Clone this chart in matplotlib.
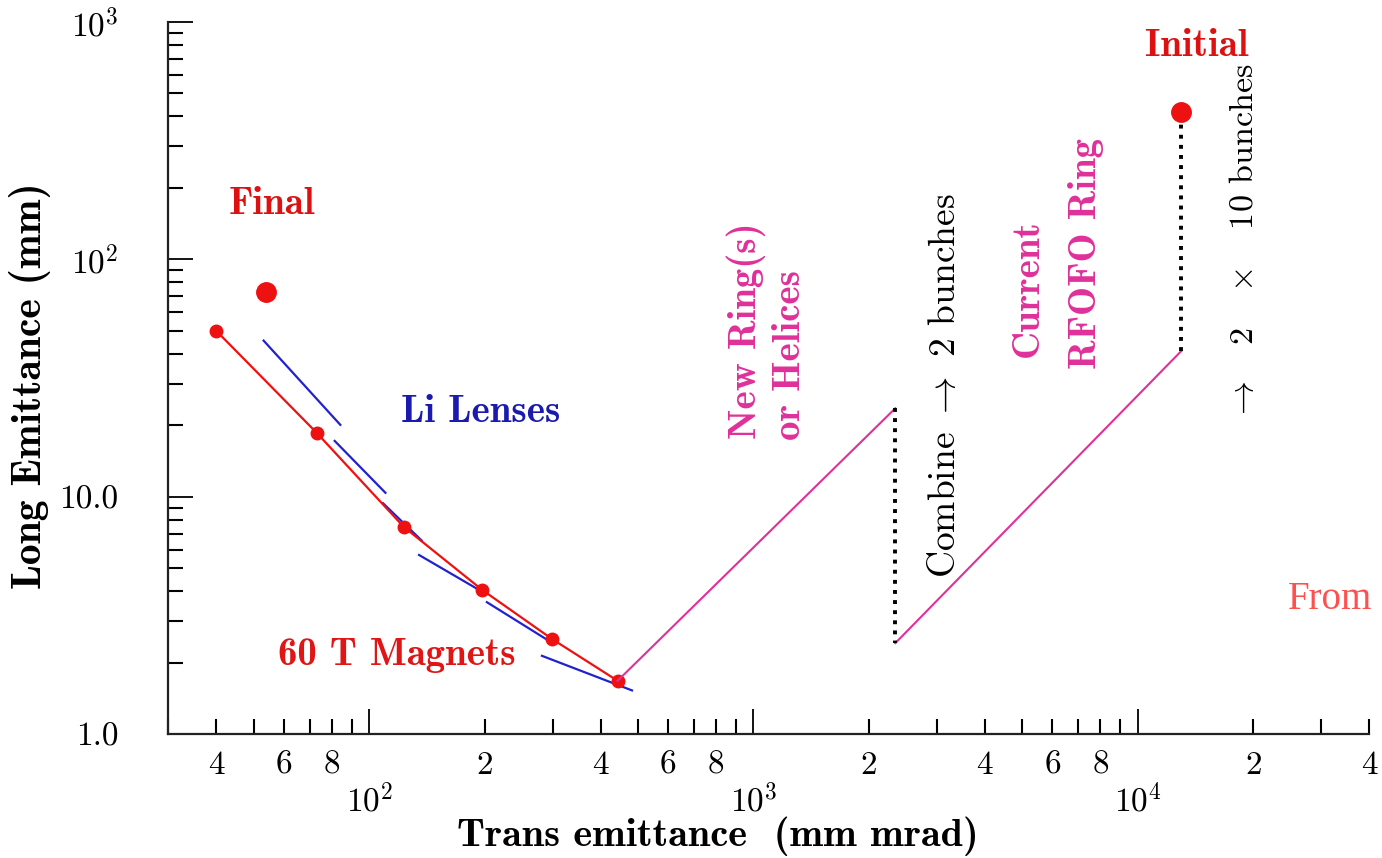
import numpy as np
import matplotlib
matplotlib.use("Agg")
import matplotlib.pyplot as plt
from matplotlib.ticker import LogLocator, FixedLocator, FuncFormatter, NullFormatter

plt.rcParams['font.family'] = 'cmr10'
plt.rcParams['mathtext.fontset'] = 'cm'
plt.rcParams['axes.formatter.use_mathtext'] = True

# ---- data ----
magnet_x = [40, 73, 123, 197, 299, 443]
magnet_y = [50, 18.6, 7.47, 4.05, 2.52, 1.68]

final_x = [54]
final_y = [73]
initial_x = [13000]
initial_y = [419]

# Li lens segments (start/end)
li_x0 = [53.1, 81.3, 108.6, 134.8, 202.4, 281.5]
li_y0 = [45.5, 17.2, 9.4, 5.69, 3.60, 2.14]
li_x1 = [84.1, 110.2, 137.0, 196.4, 290.5, 483.0]
li_y1 = [20.1, 10.4, 6.54, 3.99, 2.50, 1.53]

ring_x = [443, 2340]
ring_y = [1.68, 23.6]
combine_x = [2340, 2340]
combine_y = [23.6, 2.42]
rfofo_x = [2340, 13000]
rfofo_y = [2.42, 41.2]
split_x = [13000, 13000]
split_y = [41.2, 419]

y_major = [1, 10, 100, 1000]
y_major_labels = ['1.0', '10.0', r'$10^{2}$', r'$10^{3}$']
x_major = [100, 1000, 10000]
x_major_labels = [r'$10^{2}$', r'$10^{3}$', r'$10^{4}$']

RED = '#ee1111'
BLUE = '#2222cc'
MAG = '#e0309a'

fig = plt.figure(figsize=(13.82, 8.58), dpi=100)
ax = fig.add_axes([0.1218, 0.1442, 0.8688, 0.8302])
ax.set_xscale('log')
ax.set_yscale('log')
ax.set_xlim(30, 40000)
ax.set_ylim(1, 1000)

for s in ['top', 'right']:
    ax.spines[s].set_visible(False)
for s in ['left', 'bottom']:
    ax.spines[s].set_linewidth(1.6)
    ax.spines[s].set_color('#222222')

# lines
for x0, y0, x1, y1 in zip(li_x0, li_y0, li_x1, li_y1):
    ax.plot([x0, x1], [y0, y1], color=BLUE, lw=1.6)
ax.plot(magnet_x, magnet_y, color=RED, lw=1.6, marker='o', ms=9, mec=RED, mfc=RED)
ax.plot(ring_x, ring_y, color=MAG, lw=1.5)
ax.plot(rfofo_x, rfofo_y, color=MAG, lw=1.5)
ax.plot(combine_x, combine_y, color='black', lw=2.8, linestyle=(0, (1, 1.6)), dash_capstyle='butt')
ax.plot(split_x, split_y, color='black', lw=2.8, linestyle=(0, (1, 1.6)), dash_capstyle='butt')
ax.plot(final_x, final_y, 'o', color=RED, ms=14)
ax.plot(initial_x, initial_y, 'o', color=RED, ms=14)

# ticks
ax.xaxis.set_major_locator(FixedLocator(x_major))
ax.set_xticklabels(x_major_labels)
ax.xaxis.set_minor_locator(LogLocator(base=10, subs=np.arange(2, 10)))

def minor_fmt(v, pos):
    m = v / 10 ** np.floor(np.log10(v) + 1e-9)
    r = int(round(m))
    return str(r) if r in (2, 4, 6, 8) else ''

ax.xaxis.set_minor_formatter(FuncFormatter(minor_fmt))
ax.yaxis.set_major_locator(FixedLocator(y_major))
ax.set_yticklabels(y_major_labels)
ax.yaxis.set_minor_locator(LogLocator(base=10, subs=np.arange(2, 10)))
ax.yaxis.set_minor_formatter(NullFormatter())

ax.tick_params(which='both', direction='in', color='black', labelsize=24)
ax.tick_params(which='major', length=18, width=1.3)
ax.tick_params(which='minor', length=11, width=1.5)
ax.tick_params(axis='x', which='minor', pad=12)
ax.tick_params(axis='x', which='major', pad=35)
ax.tick_params(axis='y', which='major', pad=36)

# axis labels
fig.text(0.5195, 0.025, 'Trans emittance  (mm mrad)', fontfamily='cmb10', fontsize=29,
         ha='center', va='center')
fig.text(0.022, 0.551, 'Long Emittance (mm)', fontfamily='cmb10', fontsize=30,
         ha='center', va='center', rotation=90)

# annotations
T = ax.transAxes
FS = 28
ax.text(0.0864, 0.7434, 'Final', transform=T, color='#dd1111', fontfamily='cmb10', fontsize=FS, ha='center', va='center')
ax.text(0.8567, 0.9650, 'Initial', transform=T, color='#dd1111', fontfamily='cmb10', fontsize=FS, ha='center', va='center')
ax.text(0.2604, 0.4513, 'Li Lenses', transform=T, color='#1a1ab0', fontfamily='cmb10', fontsize=FS, ha='center', va='center')
ax.text(0.1905, 0.1105, '60 T Magnets', transform=T, color='#e01515', fontfamily='cmb10', fontsize=FS, ha='center', va='center')
ax.text(0.4811, 0.5660, 'New Ring(s)', transform=T, color=MAG, fontfamily='cmb10', fontsize=FS, ha='center', va='center', rotation=90)
ax.text(0.5178, 0.5324, 'or Helices', transform=T, color=MAG, fontfamily='cmb10', fontsize=FS, ha='center', va='center', rotation=90)
ax.text(0.6469, 0.4890, r'Combine $\rightarrow$ 2 bunches', transform=T, color='black', fontsize=27, ha='center', va='center', rotation=90)
ax.text(0.7160, 0.6266, 'Current', transform=T, color=MAG, fontfamily='cmb10', fontsize=FS, ha='center', va='center', rotation=90)
ax.text(0.7643, 0.6743, 'RFOFO Ring', transform=T, color=MAG, fontfamily='cmb10', fontsize=FS, ha='center', va='center', rotation=90)
ax.text(0.8967, 0.6911, r'$\rightarrow\quad 2\quad \times\quad 10$ bunches', transform=T, color='black', fontsize=24.5, ha='center', va='center', rotation=90)

fig.text(0.9624, 0.3007, 'From', color='#ff5050', fontfamily='Liberation Serif', fontsize=28, ha='center', va='center')

fig.savefig('out.png', dpi=100)
